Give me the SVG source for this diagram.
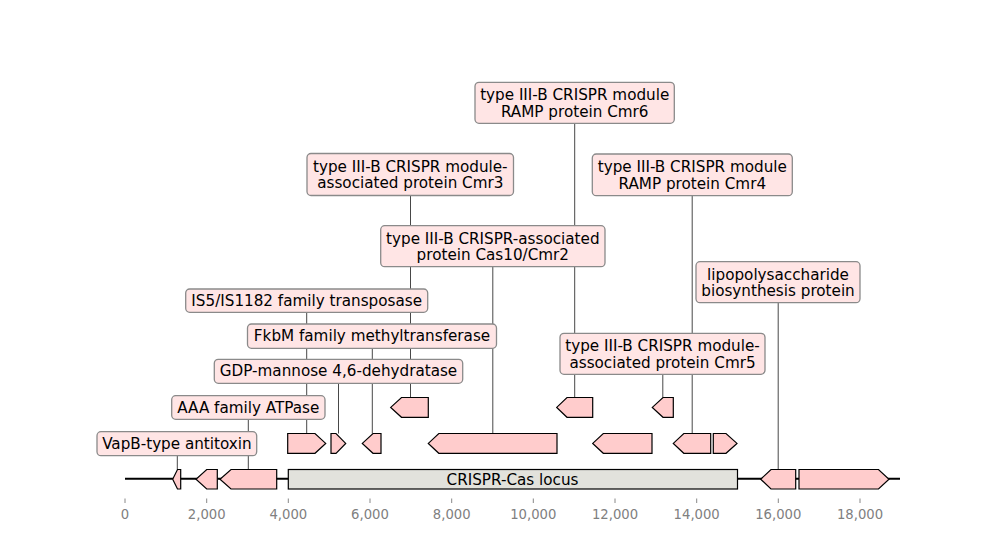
<svg xmlns="http://www.w3.org/2000/svg" width="1000" height="560" viewBox="0 0 1000 560">
<style>
.feat{fill:#ffcccc;stroke:#000;stroke-width:1.2;stroke-linejoin:miter}
.locus{fill:#e2e2dc;stroke:#000;stroke-width:1.2}
.lbl rect{fill:#ffe5e5;stroke:#8a8a8a;stroke-width:1.3}
.lbl text,.ltext{font-family:"DejaVu Sans",sans-serif;font-size:15.2px;fill:#000;text-anchor:middle}
.conn line{stroke:#333;stroke-width:0.9}
.tick line{stroke:#888;stroke-width:1}
.tick text{font-family:"DejaVu Sans",sans-serif;font-size:13.2px;fill:#808080;text-anchor:middle}
</style>
<rect x="0" y="0" width="1000" height="560" fill="#fff"/>
<g id="connectors" class="conn">
<line x1="177.3" y1="443" x2="177.3" y2="469.5"/>
<line x1="248.3" y1="407" x2="248.3" y2="469.5"/>
<line x1="338.5" y1="371" x2="338.5" y2="433.5"/>
<line x1="372.3" y1="336" x2="372.3" y2="433.5"/>
<line x1="306.7" y1="300" x2="306.7" y2="433.5"/>
<line x1="410.5" y1="175" x2="410.5" y2="397.5"/>
<line x1="492.8" y1="246" x2="492.8" y2="433.5"/>
<line x1="574.7" y1="103" x2="574.7" y2="397.5"/>
<line x1="692.2" y1="175" x2="692.2" y2="433.5"/>
<line x1="778.2" y1="282" x2="778.2" y2="469.5"/>
<line x1="662.8" y1="354" x2="662.8" y2="397.5"/>
</g>
<g id="axis" class="tick">
<line x1="125" y1="498.5" x2="125" y2="503"/><text x="125" y="519">0</text>
<line x1="206.7" y1="498.5" x2="206.7" y2="503"/><text x="206.7" y="519">2,000</text>
<line x1="288.3" y1="498.5" x2="288.3" y2="503"/><text x="288.3" y="519">4,000</text>
<line x1="370" y1="498.5" x2="370" y2="503"/><text x="370" y="519">6,000</text>
<line x1="451.7" y1="498.5" x2="451.7" y2="503"/><text x="451.7" y="519">8,000</text>
<line x1="533.3" y1="498.5" x2="533.3" y2="503"/><text x="533.3" y="519">10,000</text>
<line x1="615" y1="498.5" x2="615" y2="503"/><text x="615" y="519">12,000</text>
<line x1="696.7" y1="498.5" x2="696.7" y2="503"/><text x="696.7" y="519">14,000</text>
<line x1="778.3" y1="498.5" x2="778.3" y2="503"/><text x="778.3" y="519">16,000</text>
<line x1="860" y1="498.5" x2="860" y2="503"/><text x="860" y="519">18,000</text>
</g>
<g id="backbone"><line x1="125" y1="478.8" x2="900" y2="478.8" stroke="#000" stroke-width="2"/></g>
<g id="features">
<polygon class="feat" points="180.7,469.5 177.5,469.5 172.7,479.2 177.5,489 180.7,489"/>
<polygon class="feat" points="217.3,469.5 206.7,469.5 196,479.2 206.7,489 217.3,489"/>
<polygon class="feat" points="276.7,469.5 231,469.5 220,479.2 231,489 276.7,489"/>
<g id="locus"><rect class="locus" x="288.3" y="469.5" width="449.2" height="19.5"/><text class="ltext" x="512.5" y="484.5">CRISPR-Cas locus</text></g>
<polygon class="feat" points="795.7,469.5 771,469.5 760.7,479.2 771,489 795.7,489"/>
<polygon class="feat" points="799,469.5 878.5,469.5 889,479.2 878.5,489 799,489"/>
<polygon class="feat" points="287.7,433.5 315,433.5 325.7,443.4 315,453.3 287.7,453.3"/>
<polygon class="feat" points="331,433.5 336,433.5 345.7,443.4 336,453.3 331,453.3"/>
<polygon class="feat" points="381,433.5 373,433.5 362.3,443.4 373,453.3 381,453.3"/>
<polygon class="feat" points="557,433.5 438.8,433.5 428.3,443.4 438.8,453.3 557,453.3"/>
<polygon class="feat" points="652,433.5 603.3,433.5 592.7,443.4 603.3,453.3 652,453.3"/>
<polygon class="feat" points="710.7,433.5 683.8,433.5 673.3,443.4 683.8,453.3 710.7,453.3"/>
<polygon class="feat" points="713.3,433.5 726,433.5 737,443.4 726,453.3 713.3,453.3"/>
<polygon class="feat" points="428.3,397.5 401.5,397.5 390.7,407.4 401.5,417.3 428.3,417.3"/>
<polygon class="feat" points="592.7,397.5 567,397.5 556.7,407.4 567,417.3 592.7,417.3"/>
<polygon class="feat" points="673.3,397.5 663,397.5 652.3,407.4 663,417.3 673.3,417.3"/>
</g>
<g id="label-vapb" class="lbl"><rect x="97" y="431.7" width="159.7" height="24" rx="4"/><text x="176.9" y="448.7">VapB-type antitoxin</text></g>
<g id="label-aaa" class="lbl"><rect x="171.7" y="395.7" width="153.3" height="23.6" rx="4"/><text x="248.3" y="412.5">AAA family ATPase</text></g>
<g id="label-gdp" class="lbl"><rect x="214.3" y="359.3" width="248.4" height="24" rx="4"/><text x="338.5" y="376.3">GDP-mannose 4,6-dehydratase</text></g>
<g id="label-fkbm" class="lbl"><rect x="247.5" y="324" width="249" height="24.3" rx="4"/><text x="372" y="341">FkbM family methyltransferase</text></g>
<g id="label-is5" class="lbl"><rect x="185.7" y="289" width="242" height="23.3" rx="4"/><text x="306.7" y="305.7">IS5/IS1182 family transposase</text></g>
<g id="label-cmr3" class="lbl"><rect x="307" y="153.5" width="206.5" height="42" rx="4"/><text x="410.3" y="171.5">type III-B CRISPR module-</text><text x="410.3" y="188">associated protein Cmr3</text></g>
<g id="label-cas10" class="lbl"><rect x="380.7" y="225.7" width="224.3" height="41" rx="4"/><text x="492.8" y="243.5">type III-B CRISPR-associated</text><text x="492.8" y="260">protein Cas10/Cmr2</text></g>
<g id="label-cmr6" class="lbl"><rect x="475" y="82.3" width="199.3" height="41" rx="4"/><text x="574.7" y="100">type III-B CRISPR module</text><text x="574.7" y="116.5">RAMP protein Cmr6</text></g>
<g id="label-cmr4" class="lbl"><rect x="592.3" y="154" width="200" height="41.7" rx="4"/><text x="692.3" y="172">type III-B CRISPR module</text><text x="692.3" y="188.5">RAMP protein Cmr4</text></g>
<g id="label-lps" class="lbl"><rect x="696" y="261.7" width="164" height="41" rx="4"/><text x="778" y="279.5">lipopolysaccharide</text><text x="778" y="296">biosynthesis protein</text></g>
<g id="label-cmr5" class="lbl"><rect x="560" y="333.3" width="205" height="41" rx="4"/><text x="662.5" y="351">type III-B CRISPR module-</text><text x="662.5" y="367.5">associated protein Cmr5</text></g>
</svg>
